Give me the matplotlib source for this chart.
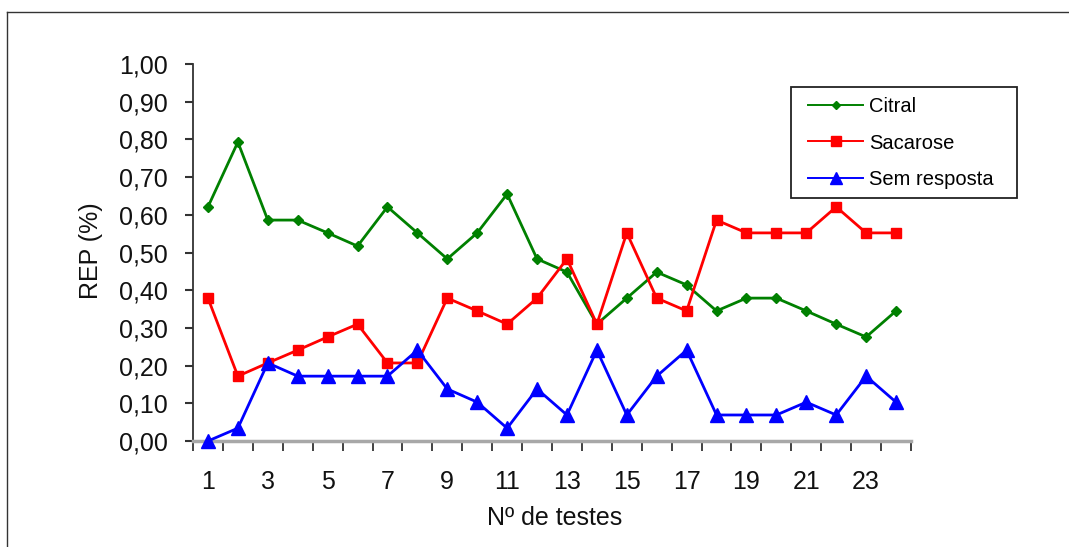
import matplotlib
matplotlib.use("Agg")
import matplotlib.pyplot as plt
from matplotlib.lines import Line2D
from matplotlib.patches import Rectangle
from matplotlib.ticker import FixedLocator, FixedFormatter

plt.rcParams['font.family'] = ['Liberation Sans', 'DejaVu Sans']

tests = list(range(1, 25))
citral = [0.621, 0.793, 0.586, 0.586, 0.552, 0.517, 0.621, 0.552, 0.483, 0.552, 0.655, 0.483,
          0.448, 0.310, 0.379, 0.448, 0.414, 0.345, 0.379, 0.379, 0.345, 0.310, 0.276, 0.345]
sacarose = [0.379, 0.172, 0.207, 0.241, 0.276, 0.310, 0.207, 0.207, 0.379, 0.345, 0.310, 0.379,
            0.483, 0.310, 0.552, 0.379, 0.345, 0.586, 0.552, 0.552, 0.552, 0.621, 0.552, 0.552]
sem_resposta = [0.000, 0.034, 0.207, 0.172, 0.172, 0.172, 0.172, 0.241, 0.138, 0.103, 0.034, 0.138,
                0.069, 0.241, 0.069, 0.172, 0.241, 0.069, 0.069, 0.069, 0.103, 0.069, 0.172, 0.103]
series_names = ["Citral", "Sacarose", "Sem resposta"]
y_ticks = [0.0, 0.1, 0.2, 0.3, 0.4, 0.5, 0.6, 0.7, 0.8, 0.9, 1.0]
y_tick_labels = ["0,00", "0,10", "0,20", "0,30", "0,40", "0,50", "0,60", "0,70", "0,80", "0,90", "1,00"]
x_label_positions = list(range(1, 24, 2))
x_tick_labels = [str(v) for v in x_label_positions]
x_label = "Nº de testes"
y_label = "REP (%)"

W, H = 1069, 547
fig = plt.figure(figsize=(W / 100, H / 100), dpi=100)
fig.patch.set_facecolor("white")

ax = fig.add_axes([193 / W, 1 - 441 / H, (911 - 193) / W, (441 - 64) / H])

lw = 2.0
l1, = ax.plot(tests, citral, color="#008000", lw=lw, marker="D", ms=5,
              markeredgecolor="#008000", label=series_names[0], clip_on=False, zorder=3)
l2, = ax.plot(tests, sacarose, color="#ff0000", lw=lw, marker="s", ms=7.5,
              markeredgecolor="#ff0000", label=series_names[1], clip_on=False, zorder=3)
l3, = ax.plot(tests, sem_resposta, color="#0000ff", lw=lw, marker="^", ms=10.5,
              markeredgecolor="#0000ff", label=series_names[2], clip_on=False, zorder=4)

ax.set_xlim(0.5, 24.5)
ax.set_ylim(0, 1.0)

for s in ["top", "right"]:
    ax.spines[s].set_visible(False)
ax.spines["left"].set_color("#333333")
ax.spines["left"].set_linewidth(1.3)
ax.spines["bottom"].set_color("#a8a8a8")
ax.spines["bottom"].set_linewidth(2.5)

ax.yaxis.set_major_locator(FixedLocator(y_ticks))
ax.yaxis.set_major_formatter(FixedFormatter(y_tick_labels))
ax.tick_params(axis="y", direction="out", length=6, width=1.5, color="#333333",
               labelsize=18, pad=12, labelcolor="#111111")

# Major x ticks at category boundaries, labels on minor ticks at category centres
ax.xaxis.set_major_locator(FixedLocator([i + 0.5 for i in range(0, 25)]))
ax.xaxis.set_major_formatter(FixedFormatter([""] * 25))
ax.xaxis.set_minor_locator(FixedLocator(x_label_positions))
ax.xaxis.set_minor_formatter(FixedFormatter(x_tick_labels))
ax.tick_params(axis="x", which="major", direction="out", length=7, width=1.3, color="#333333")
ax.tick_params(axis="x", which="minor", length=0, labelsize=18, pad=21, labelcolor="#111111")

ax.set_xlabel(x_label, fontsize=18, color="#111111")
ax.set_ylabel(y_label, fontsize=18, color="#111111")
ax.xaxis.set_label_coords((555 - 193) / (911 - 193), -(506 - 441) / (441 - 64))
ax.yaxis.set_label_coords(-(193 - 103) / (911 - 193), (441 - 251) / (441 - 64))

leg = fig.legend(handles=[l1, l2, l3], loc="center left",
                 bbox_to_anchor=(808 / W, 1 - 143 / H), fontsize=14.5,
                 frameon=False, handlelength=2.75, handletextpad=0.3,
                 labelspacing=0.88, borderpad=0, borderaxespad=0)
for h in leg.legend_handles:
    h.set_linewidth(1.4)
leg.legend_handles[0].set_markersize(4.5)
leg.legend_handles[1].set_markersize(7)
leg.legend_handles[2].set_markersize(8.5)

# Legend frame
fig.add_artist(Rectangle((791 / W, 1 - 198 / H), (1017 - 791) / W, (198 - 87) / H,
                         transform=fig.transFigure, fill=False,
                         edgecolor="#222222", lw=1.3, zorder=5))

# Outer frame (top and left edges visible)
fig.add_artist(Line2D([7 / W, 1.0], [1 - 12 / H, 1 - 12 / H], transform=fig.transFigure,
                      color="#333333", lw=1.0))
fig.add_artist(Line2D([7 / W, 7 / W], [0, 1 - 12 / H], transform=fig.transFigure,
                      color="#333333", lw=1.0))

fig.savefig("out.png", dpi=100, facecolor="white")
